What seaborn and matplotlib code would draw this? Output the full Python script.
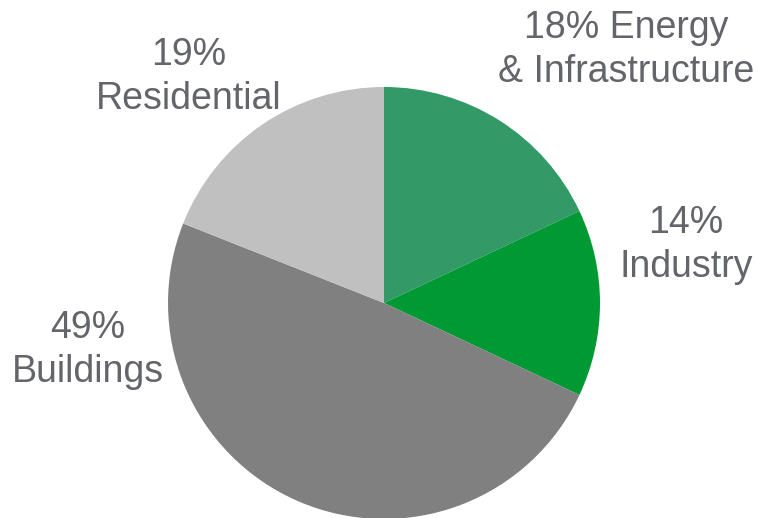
#bibliotecas
import matplotlib
matplotlib.use('Agg')
import matplotlib.pyplot as plt
import seaborn as sns

#dados
setores = ['Energy & Infrastructure', 'Industry', 'Buildings', 'Residential']
percentuais = [18, 14, 49, 19]
rotulos = ['18% Energy\n& Infrastructure', '14%\nIndustry', '49%\nBuildings', '19%\nResidential']
cores = ['#339966', '#009933', '#808080', '#c0c0c0']

sns.set_style('white')
plt.rcParams['font.family'] = ['Liberation Sans', 'DejaVu Sans']

#figura
fig = plt.figure(figsize=(7.58, 5.18), dpi=100)
ax = fig.add_axes([0, 0, 1, 1])

ax.pie(percentuais, colors=cores, startangle=90, counterclock=False,
       radius=1, wedgeprops={'linewidth': 0})

#posicoes dos rotulos (relativas ao raio)
pos_rotulos = [(1.12, 1.17), (1.398, 0.269), (-1.37, -0.218), (-0.903, 1.046)]
for txt, (x, y) in zip(rotulos, pos_rotulos):
    ax.text(x, y, txt, ha='center', va='center', fontsize=27,
            color='#63656a', linespacing=1.28)

ax.set_xlim(-384/216, (758-384)/216)
ax.set_ylim((303-518)/216, 303/216)
ax.set_aspect('auto')
ax.axis('off')

fig.savefig('out.png', dpi=100)
